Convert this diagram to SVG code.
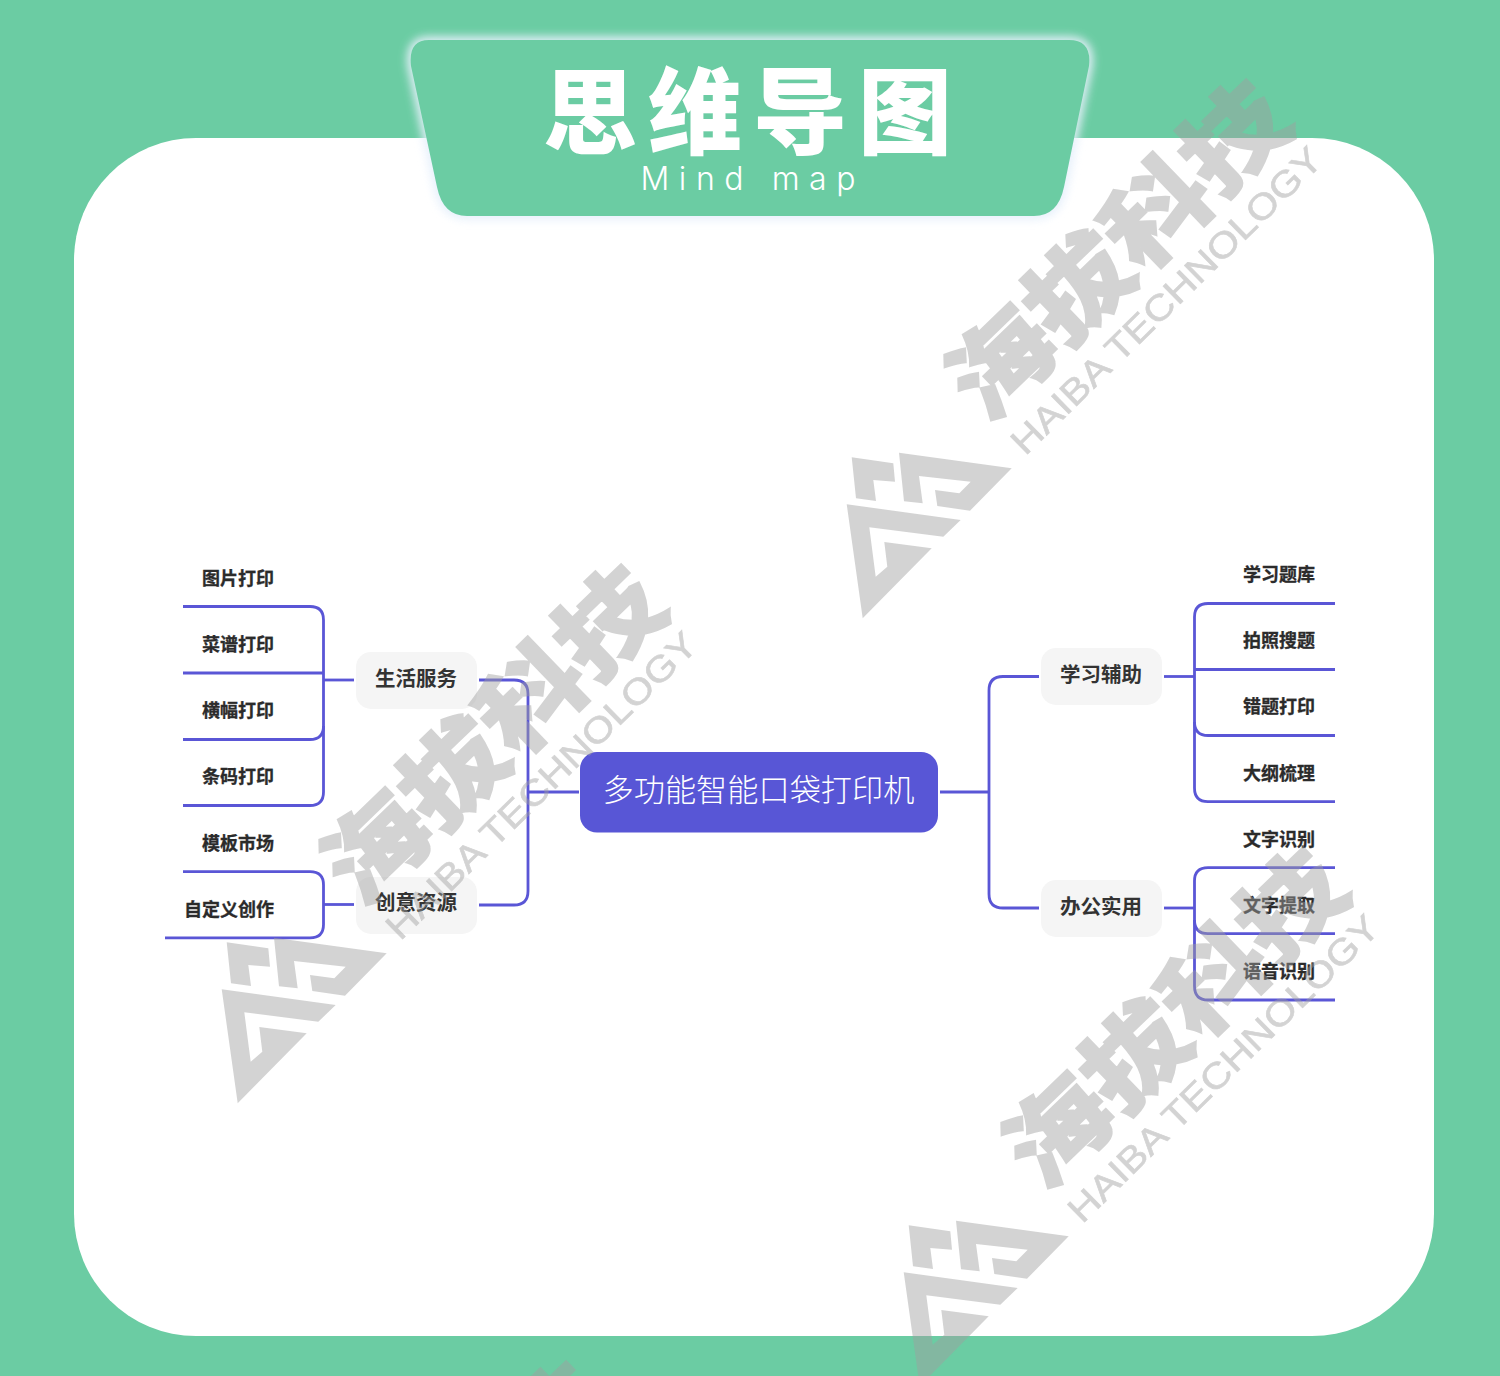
<svg xmlns="http://www.w3.org/2000/svg" xmlns:xlink="http://www.w3.org/1999/xlink" width="1500" height="1376" viewBox="0 0 1500 1376">
<style>
.cjk{font-family:"Noto Sans CJK SC","Noto Sans",sans-serif}
.leaf{font-family:"Noto Sans CJK SC","Noto Sans",sans-serif;font-size:18px;font-weight:700;fill:#2b2b2b;stroke:#2b2b2b;stroke-width:.3;text-anchor:middle}
.br{font-family:"Noto Sans CJK SC","Noto Sans",sans-serif;font-size:20.5px;font-weight:700;fill:#333;text-anchor:middle}
.pill{fill:#f5f5f5}
.ln{fill:none;stroke:#5a56d6;stroke-width:2.8}
.wmf{fill:#a0a0a0}
</style>
<defs>
<filter id="glow" x="-10%" y="-20%" width="120%" height="140%"><feGaussianBlur stdDeviation="4"/></filter>
<g id="wm" class="wmf" opacity="0.46">
<polygon points="851.7,457.3 893.3,463.3 895,481.7 873.3,480 876,501 856,498.3"/>
<polygon points="899,452.7 1011.7,468.3 970,510.7 937.3,506 935,490 959.3,493.3 970.7,481.7 919,476 922.7,503.3 904,501.3"/>
<polygon points="846.7,504.3 960.7,520 943.3,536.7 869.3,527.3 875.7,576.7 887.3,566.7 884.3,542 931.7,548.3 862.7,618.3"/>
<text transform="translate(1118,250) rotate(-44) scale(1,.88)" y="39" text-anchor="middle" class="cjk" font-size="108" font-weight="900" stroke="#a0a0a0" stroke-width="2">海拔科技</text>
<text transform="translate(1166,300) rotate(-44.5)" y="13" text-anchor="middle" font-family="Liberation Sans, Arial, sans-serif" font-size="36" stroke="#a0a0a0" stroke-width=".6" textLength="420" lengthAdjust="spacingAndGlyphs">HAIBA TECHNOLOGY</text>
</g>
</defs>
<rect id="background" width="1500" height="1376" fill="#6bcca3"/>
<rect id="panel" x="74" y="138" width="1360" height="1198" rx="122" ry="122" fill="#fff"/>
<g id="title">
<path d="M429 40H1069Q1092 40 1089 66L1064 187Q1058 216 1034 216H467Q443 216 437 187L411 66Q408 40 429 40Z" fill="#e6f0fb" stroke="#e6f0fb" stroke-width="8" filter="url(#glow)" opacity="0.9"/>
<path d="M429 40H1069Q1092 40 1089 66L1064 187Q1058 216 1034 216H467Q443 216 437 187L411 66Q408 40 429 40Z" fill="#6bcca3"/>
<text x="753" y="147" text-anchor="middle" class="cjk" font-size="94" font-weight="900" letter-spacing="11" fill="#fff">思维导图</text>
<text x="748" y="190" text-anchor="middle" font-family="Inter, 'Noto Sans', sans-serif" font-size="32" font-weight="300" fill="#fff" textLength="215">Mind map</text>
</g>
<g id="connectors">
<path class="ln" d="M183 606.5H310Q323.5 606.5 323.5 620V792Q323.5 805.5 310 805.5H183"/>
<path class="ln" d="M183 673H323.5"/>
<path class="ln" d="M183 739.5H310Q323.5 739.5 323.5 726"/>
<path class="ln" d="M323.5 680H354"/>
<path class="ln" d="M183 871.7H310Q323.5 871.7 323.5 885V924.5Q323.5 937.8 310 937.8H165"/>
<path class="ln" d="M323.5 904.5H354"/>
<path class="ln" d="M479 680H514Q528 680 528 694V891Q528 905 514 905H479"/>
<path class="ln" d="M528 792H579"/>
<path class="ln" d="M940 792H989"/>
<path class="ln" d="M1039 676.5H1003Q989 676.5 989 690.5V894Q989 908 1003 908H1039"/>
<path class="ln" d="M1164 676.5H1194"/>
<path class="ln" d="M1164 908H1194"/>
<path class="ln" d="M1335 603.5H1208Q1194.5 603.5 1194.5 617V788Q1194.5 801.7 1208 801.7H1335"/>
<path class="ln" d="M1194.5 669.5H1335"/>
<path class="ln" d="M1194.5 722Q1194.5 735.5 1208 735.5H1335"/>
<path class="ln" d="M1335 867.7H1208Q1194.5 867.7 1194.5 881V986Q1194.5 1000 1208 1000H1335"/>
<path class="ln" d="M1194.5 920Q1194.5 933.7 1208 933.7H1335"/>
</g>
<g id="root"><rect x="580" y="752" width="358" height="80.500" rx="17" fill="#5856d6"/><text x="758.500" y="801" text-anchor="middle" class="cjk" font-size="31.200" font-weight="300" fill="#fff">多功能智能口袋打印机</text></g>
<g id="n-life"><rect class="pill" x="356" y="652" width="121" height="57" rx="15"/><text class="br" x="416" y="686">生活服务</text></g>
<g id="n-create"><rect class="pill" x="356" y="877" width="121" height="57" rx="15"/><text class="br" x="416" y="910">创意资源</text></g>
<g id="n-study"><rect class="pill" x="1041" y="648" width="121" height="57" rx="15"/><text class="br" x="1101" y="682">学习辅助</text></g>
<g id="n-office"><rect class="pill" x="1041" y="880" width="121" height="57" rx="15"/><text class="br" x="1101" y="914">办公实用</text></g>
<g id="l1"><text class="leaf" x="238" y="585">图片打印</text></g>
<g id="l2"><text class="leaf" x="238" y="651">菜谱打印</text></g>
<g id="l3"><text class="leaf" x="238" y="717">横幅打印</text></g>
<g id="l4"><text class="leaf" x="238" y="783">条码打印</text></g>
<g id="l5"><text class="leaf" x="238" y="850">模板市场</text></g>
<g id="l6"><text class="leaf" x="229" y="916">自定义创作</text></g>
<g id="r1"><text class="leaf" x="1279" y="581">学习题库</text></g>
<g id="r2"><text class="leaf" x="1279" y="647">拍照搜题</text></g>
<g id="r3"><text class="leaf" x="1279" y="713">错题打印</text></g>
<g id="r4"><text class="leaf" x="1279" y="780">大纲梳理</text></g>
<g id="r5"><text class="leaf" x="1279" y="846">文字识别</text></g>
<g id="r6"><text class="leaf" x="1279" y="912">文字提取</text></g>
<g id="r7"><text class="leaf" x="1279" y="978">语音识别</text></g>
<g id="watermarks">
<use href="#wm"/>
<use href="#wm" transform="translate(-625,485)"/>
<use href="#wm" transform="translate(57,768)"/>
<use href="#wm" transform="translate(-680,1282)"/>
</g>
</svg>
